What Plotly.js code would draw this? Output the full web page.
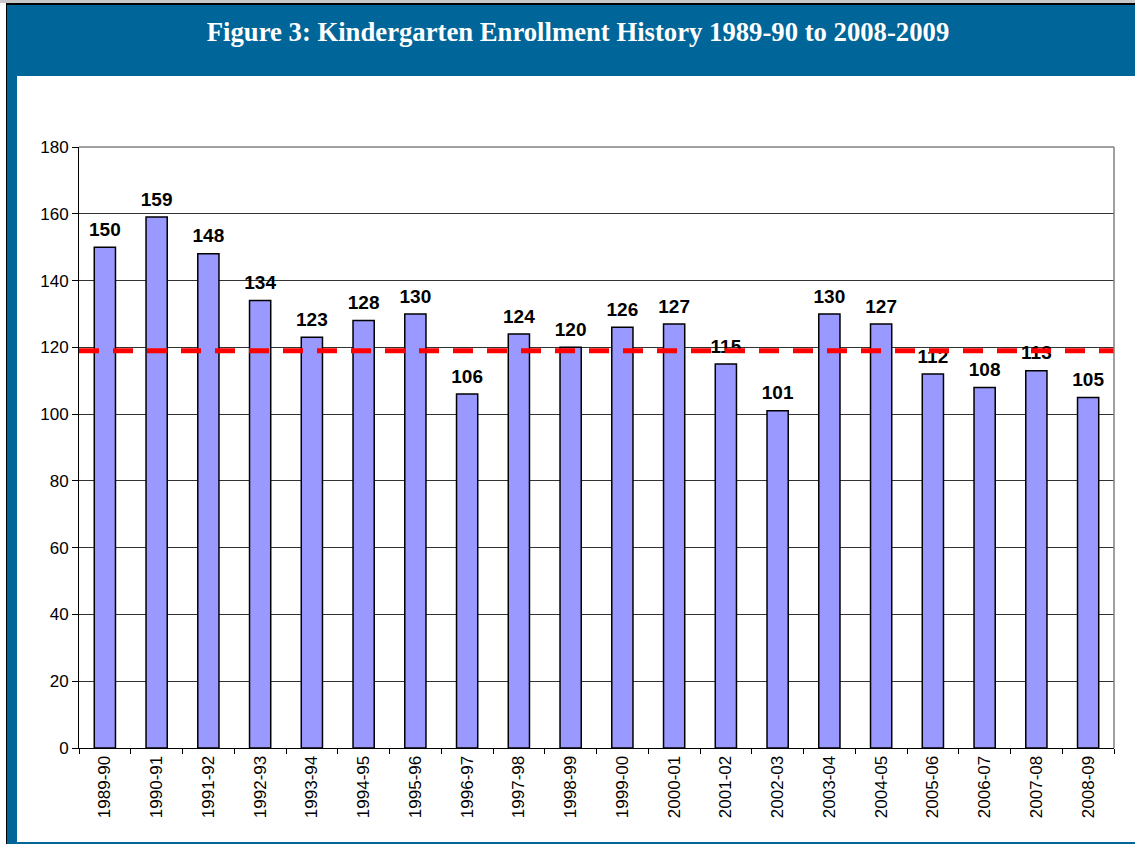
<!DOCTYPE html>
<html>
<head>
<meta charset="utf-8">
<script src="https://cdn.plot.ly/plotly-3.0.1.min.js"></script>
<style>
  html, body { margin: 0; padding: 0; background: #ffffff; }
  #chart { width: 1135px; height: 844px; }
</style>
</head>
<body>
<div id="chart"></div>
<script>
// ---- data ----
const schoolYears = ["1989-90","1990-91","1991-92","1992-93","1993-94","1994-95","1995-96","1996-97","1997-98","1998-99",
                     "1999-00","2000-01","2001-02","2002-03","2003-04","2004-05","2005-06","2006-07","2007-08","2008-09"];
const enrollment = [150,159,148,134,123,128,130,106,124,120,126,127,115,101,130,127,112,108,113,105];
const referenceLine = [119, 119];
const yTickValues = [0,20,40,60,80,100,120,140,160,180];
const titleText = "Figure 3: Kindergarten Enrollment History 1989-90 to 2008-2009";

// ---- layout geometry (pixels) ----
const W = 1135, H = 844;
const M = { l: 79, r: 21, t: 147, b: 96 };
const pw = W - M.l - M.r, ph = H - M.t - M.b;
const px = x => (x - M.l) / pw;          // pixel x -> paper x
const py = y => (H - M.b - y) / ph;      // pixel y -> paper y

const blue = "#006699";
function rect(x0, y0, x1, y1, color, layer) {
  return { type: "rect", xref: "paper", yref: "paper",
           x0: px(x0), x1: px(x1), y0: py(y1), y1: py(y0),
           fillcolor: color, line: { width: 0 }, layer: layer || "below" };
}

const shapes = [
  rect(0, 0, W, 3, "#c8c8c8"),
  rect(6, 3, W, 5, "#000000"),
  rect(6, 3, 7, H, "#000000"),
  rect(7, 5, W, 76, blue),
  rect(7, 5, 17, H, blue),
  rect(7, 842, W, H, blue),
  // gray plot frame top and right
  { type: "line", xref: "paper", yref: "paper", x0: 0, x1: 1, y0: 1, y1: 1,
    line: { color: "#808080", width: 1.5 }, layer: "above" },
  { type: "line", xref: "paper", yref: "paper", x0: 1, x1: 1, y0: 0, y1: 1,
    line: { color: "#808080", width: 1.5 }, layer: "above" }
];

const bars = {
  type: "bar", x: schoolYears, y: enrollment,
  marker: { color: "#9999FF", line: { color: "#000000", width: 1.5 } },
  hoverinfo: "x+y"
};

const labels = {
  type: "scatter", mode: "markers+text", x: schoolYears, y: enrollment,
  text: enrollment.map(String), textposition: "top center",
  marker: { size: 9, color: "rgba(0,0,0,0)" },
  textfont: { family: "Liberation Sans, Arial, sans-serif", size: 19, color: "#000000", weight: "bold" },
  texttemplate: "<b>%{text}</b>",
  cliponaxis: false, hoverinfo: "skip", showlegend: false
};

const avgLine = {
  type: "scatter", mode: "lines", x: [0, 1], y: referenceLine,
  xaxis: "x2", yaxis: "y",
  line: { color: "#FF0000", width: 5, dash: "20px,14px" },
  hoverinfo: "skip", showlegend: false
};

const layout = {
  width: W, height: H,
  margin: M,
  paper_bgcolor: "#ffffff", plot_bgcolor: "#ffffff",
  showlegend: false,
  bargap: 0.59,
  font: { family: "Liberation Sans, Arial, sans-serif", size: 17, color: "#000000" },
  title: {
    text: "<b>" + titleText + "</b>",
    font: { family: "Liberation Serif, Times New Roman, serif", size: 26.7, color: "#ffffff" },
    xref: "container", yref: "container", x: 578 / W, xanchor: "center",
    y: 1 - 32 / H, yanchor: "middle"
  },
  xaxis: {
    type: "category", range: [-0.5, schoolYears.length - 0.5],
    tickangle: -90, ticks: "outside", tickson: "boundaries",
    ticklen: 5, tickcolor: "#000000", tickwidth: 1,
    showline: true, linecolor: "#000000", linewidth: 1,
    showgrid: false, zeroline: false,
    tickfont: { size: 17 }
  },
  xaxis2: { overlaying: "x", range: [0, 1], visible: false, fixedrange: true },
  yaxis: {
    range: [0, 180], tickvals: yTickValues, ticks: "outside", ticklen: 6,
    tickcolor: "#000000", showline: true, linecolor: "#000000", linewidth: 1,
    showgrid: true, gridcolor: "#333333", gridwidth: 1, zeroline: false,
    tickfont: { size: 17 }
  },
  shapes: shapes
};

Plotly.newPlot("chart", [bars, labels, avgLine], layout, { displayModeBar: false, staticPlot: true });
</script>
</body>
</html>
